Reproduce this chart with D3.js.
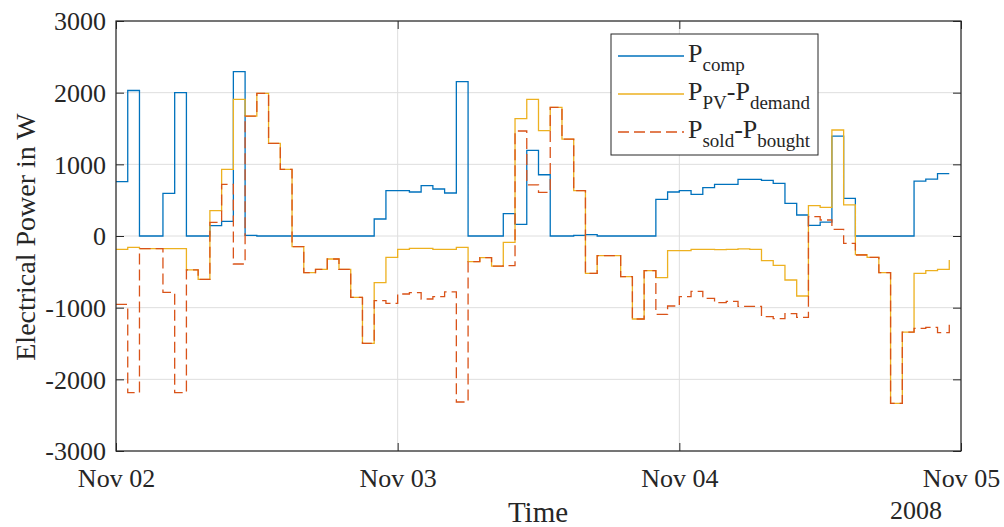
<!DOCTYPE html>
<html>
<head>
<meta charset="utf-8">
<script src="https://cdn.jsdelivr.net/npm/d3@7/dist/d3.min.js"></script>
<style>
  body { margin: 0; background: #fff; }
  svg, svg text { font-family: "Liberation Serif", "Times New Roman", serif !important; }
  .tickLabels text { fill: #262626; }
</style>
</head>
<body>
<div id="chart"></div>
<script>
// ----------- DATA (hourly values, W) ------------
const startDay = Date.UTC(2008, 10, 2); // Nov 02 2008, 00:00
const dayTicks = ['2008-11-02', '2008-11-03', '2008-11-04', '2008-11-05'];
const yTicks = [-3000, -2000, -1000, 0, 1000, 2000, 3000];

// P_comp
const pComp = [
  758, 2030, 0, 0, 596, 2000, 0, 0, 144, 205, 2293, 10,
  0, 0, 0, 0, 0, 0, 0, 0, 0, 0, 237, 632,
  632, 614, 702, 656, 600, 2153, 0, 0, 0, 311, 163, 1196,
  855, 0, 0, 8, 18, 0, 0, 0, 0, 0, 512, 614,
  632, 581, 674, 721, 721, 791, 791, 777, 735, 456, 293, 149,
  195, 1395, 526, 0, 0, 0, 0, 0, 767, 795, 870, 870
];

// P_PV - P_demand
const pNet = [
  -186, -158, -175, -175, -175, -175, -474, -605, 353, 930, 1907, 1674,
  1991, 1293, 930, -149, -512, -465, -321, -465, -855, -1497, -651, -297,
  -186, -172, -172, -186, -186, -158, -358, -302, -419, -88, 1637, 1907,
  1470, 1796, 1353, 632, -521, -275, -275, -567, -1158, -484, -581, -205,
  -205, -186, -186, -190, -186, -180, -186, -344, -409, -614, -837, 423,
  400, 1479, 433, -260, -298, -512, -2335, -1340, -521, -484, -465, -335
];

// P_sold - P_bought
const pGrid = [
  -953, -2186, -177, -177, -786, -2186, -474, -605, 191, 721, -391, 1674,
  1991, 1293, 930, -149, -512, -465, -321, -465, -855, -1497, -902, -939,
  -809, -791, -879, -845, -781, -2316, -358, -302, -419, -414, 1465, 712,
  610, 1796, 1353, 632, -521, -275, -275, -567, -1158, -484, -1093, -977,
  -847, -772, -870, -930, -912, -981, -981, -1126, -1154, -1084, -1135, 270,
  223, 93, -102, -265, -298, -512, -2335, -1340, -1288, -1274, -1349, -1232
];

const series = [
  { key: 'comp', values: pComp, color: '#0072BD', dash: null },
  { key: 'net', values: pNet, color: '#EDB120', dash: null },
  { key: 'grid', values: pGrid, color: '#D95319', dash: '11,5' },
];

// ----------- SVG ------------
const width = 1004, height = 527;
const margin = { top: 21, right: 43, bottom: 76, left: 116 };
const w = width - margin.left - margin.right;
const h = height - margin.top - margin.bottom;
const axisColor = '#262626';
const font = '"Liberation Serif", "Times New Roman", serif';

const svg = d3.select('#chart').append('svg')
  .attr('width', width)
  .attr('height', height);

svg.append('rect').attr('width', width).attr('height', height).attr('fill', '#fff');

const g = svg.append('g').attr('transform', `translate(${margin.left},${margin.top})`);

const x = d3.scaleUtc()
  .domain([new Date(startDay), new Date(dayTicks[dayTicks.length - 1])])
  .range([0, w]);
const y = d3.scaleLinear().domain([-3000, 3000]).range([h, 0]);

const dayDates = dayTicks.map((d) => new Date(d));
const times = pComp.map((_, i) => new Date(startDay + i * 3600e3));

// grid
g.append('g')
  .selectAll('line')
  .data(yTicks)
  .enter()
  .append('line')
  .attr('x1', 0).attr('x2', w)
  .attr('y1', (d) => y(d)).attr('y2', (d) => y(d))
  .attr('stroke', '#dedede').attr('stroke-width', 1);
g.append('g')
  .selectAll('line')
  .data(dayDates)
  .enter()
  .append('line')
  .attr('y1', 0).attr('y2', h)
  .attr('x1', (d) => x(d)).attr('x2', (d) => x(d))
  .attr('stroke', '#dedede').attr('stroke-width', 1);

// lines (stairs)
const line = d3.line()
  .x((d, i) => x(times[i]))
  .y((d) => y(d))
  .curve(d3.curveStepAfter);

g.selectAll('.series')
  .data(series)
  .enter()
  .append('path')
  .attr('class', 'series')
  .attr('d', (d) => line(d.values))
  .attr('fill', 'none')
  .attr('stroke', (d) => d.color)
  .attr('stroke-width', 1.3)
  .attr('stroke-dasharray', (d) => d.dash);

// ----------- AXES ------------
const fmt = d3.utcFormat('%b %d');
const tickLen = 8;

const yAxis = g.append('g')
  .attr('class', 'tickLabels')
  .call(d3.axisLeft(y).tickValues(yTicks).tickFormat((d) => String(d)).tickSize(-tickLen).tickPadding(10));

const xAxis = g.append('g')
  .attr('class', 'tickLabels')
  .attr('transform', `translate(0,${h})`)
  .call(d3.axisBottom(x).tickValues(dayDates).tickFormat(fmt).tickSize(-tickLen).tickPadding(18));

[yAxis, xAxis].forEach((a) => {
  a.attr('font-family', null).attr('font-size', null);
  a.selectAll('text').style('font-family', font).style('font-size', '26px');
});
yAxis.selectAll('text').attr('dy', '0.34em');

g.append('g')
  .attr('transform', `translate(${w},0)`)
  .call(d3.axisRight(y).tickValues(yTicks).tickSize(-tickLen).tickFormat(''));
g.append('g')
  .call(d3.axisTop(x).tickValues(dayDates).tickSize(-tickLen).tickFormat(''));

g.selectAll('.domain').remove();
g.selectAll('.tick line').attr('stroke', axisColor);

g.append('rect')
  .attr('width', w).attr('height', h)
  .attr('fill', 'none')
  .attr('stroke', axisColor)
  .attr('stroke-width', 1.2);

// axis labels
svg.append('text')
  .attr('x', 538).attr('y', 522)
  .attr('text-anchor', 'middle')
  .style('font-size', '29px')
  .attr('fill', axisColor)
  .text('Time');

svg.append('text')
  .attr('x', 916).attr('y', 519)
  .attr('text-anchor', 'middle')
  .style('font-size', '26px')
  .attr('fill', axisColor)
  .text('2008');

svg.append('text')
  .attr('transform', 'translate(35,237) rotate(-90)')
  .attr('text-anchor', 'middle')
  .style('font-size', '28px')
  .attr('fill', axisColor)
  .text('Electrical Power in W');

// ----------- LEGEND ------------
const legend = svg.append('g').attr('transform', 'translate(611,34)');
legend.append('rect')
  .attr('width', 207).attr('height', 121)
  .attr('fill', '#fff')
  .attr('stroke', axisColor)
  .attr('stroke-width', 1);

const legendText = [
  [['P', ''], ['comp', 'sub']],
  [['P', ''], ['PV', 'sub'], ['-P', ''], ['demand', 'sub']],
  [['P', ''], ['sold', 'sub'], ['-P', ''], ['bought', 'sub']],
];

const rows = legend.selectAll('.row')
  .data(series)
  .enter()
  .append('g')
  .attr('transform', (d, i) => `translate(0,${22 + i * 38})`);

rows.append('line')
  .attr('x1', 7).attr('x2', 73)
  .attr('stroke', (d) => d.color)
  .attr('stroke-width', 1.3)
  .attr('stroke-dasharray', (d) => d.dash);

rows.append('text')
  .attr('x', 77).attr('y', 6)
  .attr('fill', axisColor)
  .each(function (d, i) {
    const t = d3.select(this);
    let shifted = false;
    legendText[i].forEach(([s, kind]) => {
      const sp = t.append('tspan').text(s);
      if (kind === 'sub') {
        sp.style('font-size', '19px').attr('dy', shifted ? 0 : 9);
        shifted = true;
      } else {
        sp.style('font-size', '26px').attr('dy', shifted ? -9 : 0);
        shifted = false;
      }
    });
  });
</script>
</body>
</html>
